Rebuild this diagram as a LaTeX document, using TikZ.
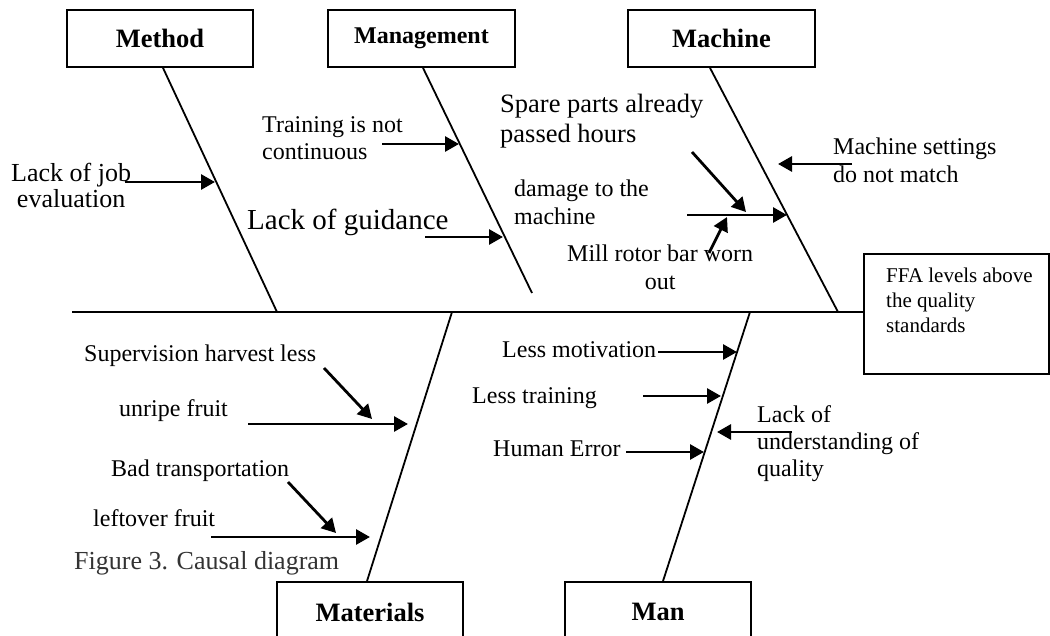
\documentclass[tikz,border=0pt]{standalone}
\usepackage{fontspec}
\setmainfont{Liberation Serif}
\usetikzlibrary{arrows.meta,calc}
\newcommand\lineL[1]{\vtop{\halign{##\hfil\cr#1\crcr}}}
\newcommand\lineC[1]{\vtop{\halign{\hfil##\hfil\cr#1\crcr}}}
\newcommand\fs[2]{\fontsize{#1}{#2}\selectfont}
\begin{document}
\begin{tikzpicture}[x=1pt,y=-1pt,
  box/.style={draw,line width=1.8pt,minimum height=57pt,inner sep=0pt,font=\fs{26.5}{30}\bfseries},
  bone/.style={line width=1.8pt},
  cause/.style={line width=2.8pt,-{Triangle[length=14pt,width=15pt]}},
  lbl/.style={inner sep=0pt,anchor=base west,font=\fs{24}{27}}]
\useasboundingbox (0,0) rectangle (1050,636);
\clip (0,0) rectangle (1050,636);
% category boxes
\node[box,minimum width=186pt] (method) at (160,38.5) {Method};
\node[box,minimum width=187pt,font=\fs{24}{27}\bfseries] (management) at (421.5,38.5) {Management};
\node[box,minimum width=187pt] (machine) at (721.5,38.5) {Machine};
\node[draw,line width=1.8pt,minimum width=185pt,minimum height=120pt,inner sep=0pt] (ffa) at (956.5,314) {};
\node[box,minimum width=186pt,minimum height=60pt] (materials) at (370,612) {Materials};
\node[box,minimum width=186pt,minimum height=60pt] (man) at (658,612) {Man};
\node[lbl,font=\fs{21}{25}] (ffatext) at (886,283) {\lineL{FFA levels above\cr the quality\cr standards}};
% spine
\coordinate (sp) at (72,312);
\draw[bone] (sp) -- (sp -| ffa.west);
% bones
\coordinate (meB) at (277,312);
\draw[bone] ([xshift=3pt]method.south) -- (meB);
\coordinate (mgB) at (532,293);
\draw[bone] ([xshift=1.5pt]management.south) -- (mgB);
\coordinate (mcB) at (838,312);
\draw[bone] ([xshift=-11.5pt]machine.south) -- (mcB);
\coordinate (maT) at (452,312);
\draw[bone] (maT) -- ([xshift=-3pt]materials.north);
\coordinate (mnT) at (750,312);
\draw[bone] (mnT) -- ([xshift=5pt]man.north);
% cause arrows
\foreach \n/\sx/\sy/\ex/\ey in {
  job/125/182/215/182, train/382/144/459/144, guid/425/237/503/237,
  sett/852/164/778/164, dam/687/215/787/215, spare/692/152/746/212,
  mill/709/253/727/217, unripe/248/424/408/424, superv/324/368/372/419,
  left/211/537/370/537, bad/288/482/336/533, motiv/658/352/737/352,
  ltrain/643/396/721/396, human/626/452/704/452, und/792/432/717/432}{
  \coordinate (\n s) at (\sx,\sy);
  \coordinate (\n e) at (\ex,\ey);
  \draw[cause] (\n s) -- (\n e);
}
% texts
\node[lbl,font=\fs{26}{26}] (tjob) at (11,182) {\lineC{Lack of job\cr evaluation}};
\node[lbl] (ttrain) at (262,133) {\lineL{Training is not\cr continuous}};
\node[lbl,font=\fs{29}{32}] (tguid) at (247,230) {Lack of guidance};
\node[lbl,font=\fs{26.5}{30}] (tspare) at (500,113) {\lineL{Spare parts already\cr passed hours}};
\node[lbl,font=\fs{24}{28}] (tdam) at (514,197) {\lineL{damage to the\cr machine}};
\node[lbl,font=\fs{24}{28}] (tmill) at (567,262) {\lineC{Mill rotor bar worn\cr out}};
\node[lbl,font=\fs{24}{28}] (tsett) at (833,155) {\lineL{Machine settings\cr do not match}};
\node[lbl] (tsuperv) at (84,362) {Supervision harvest less};
\node[lbl] (tunripe) at (119,417) {unripe fruit};
\node[lbl] (tbad) at (111,476) {Bad transportation};
\node[lbl] (tleft) at (93,526) {leftover fruit};
\node[lbl,font=\fs{26}{30},text=black!80] (tfig) at (74,569) {Figure 3. Causal diagram};
\node[lbl] (tmotiv) at (502,358) {Less motivation};
\node[lbl] (tltrain) at (472,403) {Less training};
\node[lbl] (thuman) at (493,456) {Human Error};
\node[lbl] (tund) at (757,422) {\lineL{Lack of\cr understanding of\cr quality}};
\end{tikzpicture}
\end{document}
